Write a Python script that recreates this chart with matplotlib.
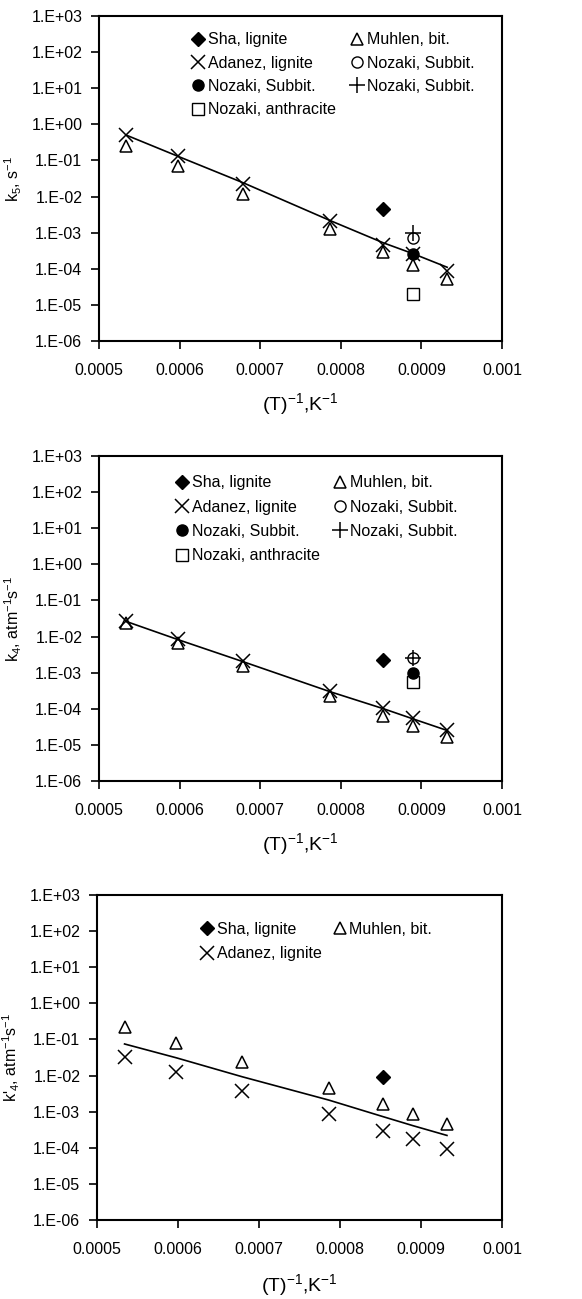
import numpy as np
import matplotlib
matplotlib.use("Agg")
import matplotlib.pyplot as plt
from matplotlib.ticker import LogLocator, NullLocator, FuncFormatter, FixedLocator

plt.rcParams['font.family'] = ['Liberation Sans', 'DejaVu Sans']
plt.rcParams['mathtext.fontset'] = 'custom'
plt.rcParams['mathtext.rm'] = 'Liberation Sans'
plt.rcParams['mathtext.it'] = 'Liberation Sans:italic'

# inverse temperature, 1/K
INV_T = [0.000534, 0.000598, 0.000679, 0.000786, 0.000853, 0.000890, 0.000932]
X_SHA = [0.000853]
X_NOZ = [0.000890]

# panel 1: k5, s^-1
K5_ADANEZ = [0.5, 0.13, 0.022, 0.0021, 4.6e-4, 2.5e-4, 8.7e-5]
K5_MUHLEN = [0.25, 0.07, 0.012, 0.00124, 2.9e-4, 1.25e-4, 5.3e-5]
K5_FIT = [0.5, 0.13, 0.024, 0.0022, 5.2e-4, 2.6e-4, 1.1e-4]
K5_SHA = [4.5e-3]
K5_NOZ_FILLED = [2.6e-4]
K5_NOZ_OPEN = [7.1e-4]
K5_NOZ_PLUS = [9.8e-4]
K5_NOZ_ANTH = [2.0e-5]

# panel 2: k4, atm^-1 s^-1
K4_ADANEZ = [0.0264, 0.0084, 0.00206, 3.1e-4, 1.05e-4, 5.5e-5, 2.6e-5]
K4_MUHLEN = [0.0235, 0.0068, 0.00153, 2.2e-4, 6.3e-5, 3.3e-5, 1.65e-5]
K4_FIT = [0.026, 0.0082, 0.0020, 3.0e-4, 1.0e-4, 5.2e-5, 2.5e-5]
K4_SHA = [2.2e-3]
K4_NOZ_FILLED = [1.0e-3]
K4_NOZ_OPEN = [2.5e-3]
K4_NOZ_PLUS = [2.5e-3]
K4_NOZ_ANTH = [5.5e-4]

# panel 3: k'4, atm^-1 s^-1
K4P_ADANEZ = [0.032, 0.0123, 3.8e-3, 8.4e-4, 2.9e-4, 1.7e-4, 9.2e-5]
K4P_MUHLEN = [0.216, 0.081, 0.024, 0.0046, 1.6e-3, 8.4e-4, 4.5e-4]
K4P_FIT = [0.075, 0.031, 0.0093, 0.0021, 7.3e-4, 4.1e-4, 2.2e-4]
K4P_SHA = [8.9e-3]

X_TICKS = [0.0005, 0.0006, 0.0007, 0.0008, 0.0009, 0.001]

MS = 8


def style_axes(ax, ylabel, xlabelpad):
    ax.set_yscale('log')
    ax.set_ylim(1e-6, 1e3)
    ax.set_xlim(0.0005, 0.001)
    ax.yaxis.set_major_locator(LogLocator(base=10, numticks=12))
    ax.yaxis.set_minor_locator(NullLocator())
    ax.yaxis.set_major_formatter(FuncFormatter(
        lambda v, p: "1.E%+03d" % int(round(np.log10(v)))))
    ax.xaxis.set_major_locator(FixedLocator(X_TICKS))
    ax.xaxis.set_major_formatter(FuncFormatter(lambda v, p: "%g" % v))
    ax.tick_params(direction='out', length=6, width=1.2, labelsize=11.5,
                   pad=6, colors='black')
    ax.tick_params(axis='x', pad=10)
    for s in ax.spines.values():
        s.set_linewidth(1.5)
    ax.set_xlabel(r'(T)$^{\mathregular{-1}}$,K$^{\mathregular{-1}}$',
                  fontsize=14, labelpad=xlabelpad)
    ax.set_ylabel(ylabel, fontsize=11.5)
    ax.yaxis.set_label_coords(-0.185, 0.5)


def plot_common(ax, adanez, muhlen, fit, sha):
    ax.plot(INV_T, fit, color='black', lw=1.2, zorder=2)
    h_m, = ax.plot(INV_T, muhlen, ls='none', marker='^', ms=MS + 1,
                   mfc='none', mec='black', mew=1.1, label='Muhlen, bit.', zorder=3)
    h_a, = ax.plot(INV_T, adanez, ls='none', marker='x', ms=MS + 2,
                   mec='black', mew=1.1, label='Adanez, lignite', zorder=4)
    h_s, = ax.plot(X_SHA, sha, ls='none', marker='D', ms=MS - 1,
                   mfc='black', mec='black', label='Sha, lignite', zorder=4)
    return h_s, h_a, h_m


def plot_nozaki(ax, filled, opened, plus, anth):
    h_f, = ax.plot(X_NOZ, filled, ls='none', marker='o', ms=MS,
                   mfc='black', mec='black', label='Nozaki, Subbit.', zorder=5)
    h_o, = ax.plot(X_NOZ, opened, ls='none', marker='o', ms=MS,
                   mfc='none', mec='black', mew=1.0, label='Nozaki, Subbit.', zorder=5)
    h_p, = ax.plot(X_NOZ, plus, ls='none', marker='+', ms=MS + 3,
                   mec='black', mew=1.1, label='Nozaki, Subbit.', zorder=5)
    h_q, = ax.plot(X_NOZ, anth, ls='none', marker='s', ms=MS,
                   mfc='none', mec='black', mew=1.0, label='Nozaki, anthracite', zorder=5)
    return h_f, h_o, h_p, h_q


fig = plt.figure(figsize=(5.82, 12.99), dpi=100)
ax1 = fig.add_axes([0.1701, 0.7375, 0.6924, 0.2502])
ax2 = fig.add_axes([0.1701, 0.3988, 0.6924, 0.2502])
ax3 = fig.add_axes([0.1667, 0.0608, 0.6959, 0.2502])

leg_kw = dict(frameon=False, fontsize=11.5, handlelength=0.8, handletextpad=0.2,
              borderaxespad=0, borderpad=0)

# panel 1
hs, ha, hm = plot_common(ax1, K5_ADANEZ, K5_MUHLEN, K5_FIT, K5_SHA)
hf, ho, hp, hq = plot_nozaki(ax1, K5_NOZ_FILLED, K5_NOZ_OPEN, K5_NOZ_PLUS, K5_NOZ_ANTH)
style_axes(ax1, r'k$_{\mathregular{5}}$, s$^{\mathregular{-1}}$', 9)
ax1.legend([hs, ha, hf, hq, hm, ho, hp],
           [h.get_label() for h in [hs, ha, hf, hq, hm, ho, hp]],
           ncol=2, loc='upper left', bbox_to_anchor=(0.23, 0.95),
           columnspacing=0.95, labelspacing=0.52, **leg_kw)

# panel 2
hs, ha, hm = plot_common(ax2, K4_ADANEZ, K4_MUHLEN, K4_FIT, K4_SHA)
hf, ho, hp, hq = plot_nozaki(ax2, K4_NOZ_FILLED, K4_NOZ_OPEN, K4_NOZ_PLUS, K4_NOZ_ANTH)
style_axes(ax2, r'k$_{\mathregular{4}}$, atm$^{\mathregular{-1}}$s$^{\mathregular{-1}}$', 9)
ax2.legend([hs, ha, hf, hq, hm, ho, hp],
           [h.get_label() for h in [hs, ha, hf, hq, hm, ho, hp]],
           ncol=2, loc='upper left', bbox_to_anchor=(0.19, 0.94),
           columnspacing=0.9, labelspacing=0.58, **leg_kw)

# panel 3
hs, ha, hm = plot_common(ax3, K4P_ADANEZ, K4P_MUHLEN, K4P_FIT, K4P_SHA)
style_axes(ax3, r"k'$_{\mathregular{4}}$, atm$^{\mathregular{-1}}$s$^{\mathregular{-1}}$", 10.5)
ax3.legend([hs, ha, hm], [h.get_label() for h in [hs, ha, hm]],
           ncol=2, loc='upper left', bbox_to_anchor=(0.257, 0.918),
           columnspacing=0.7, labelspacing=0.6, **leg_kw)

fig.savefig('out.png', dpi=100)
